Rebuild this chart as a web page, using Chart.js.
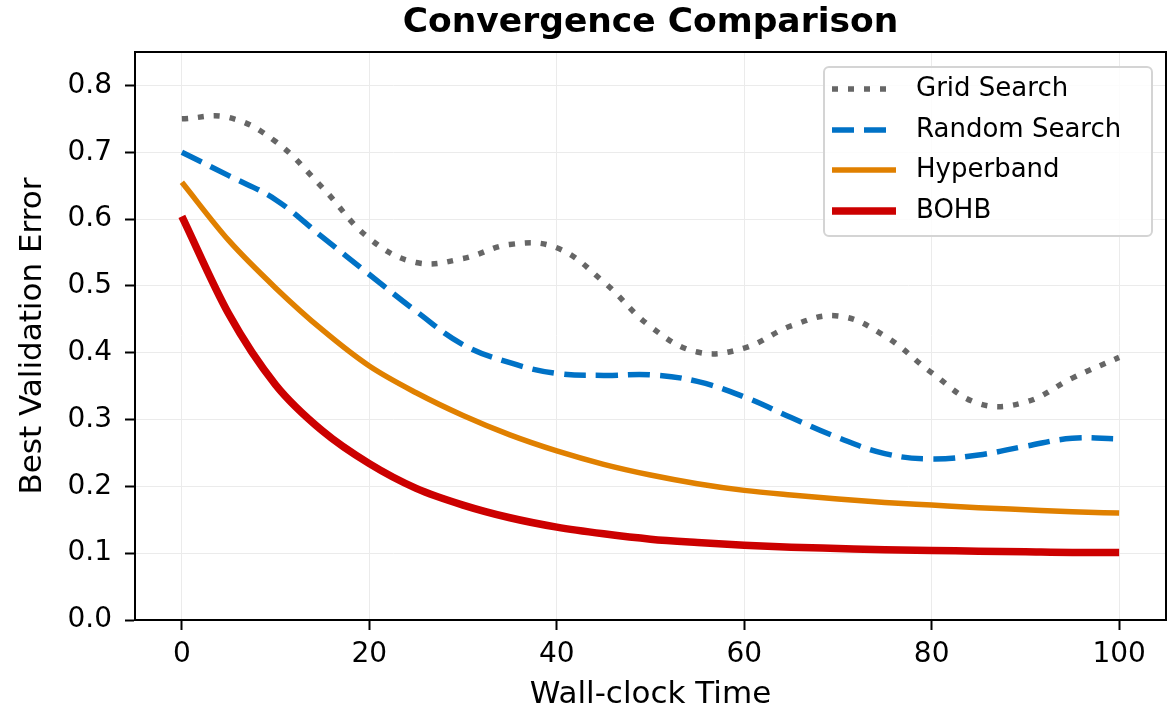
<!DOCTYPE html>
<html>
<head>
<meta charset="utf-8">
<title>Convergence Comparison</title>
<script src="https://cdn.jsdelivr.net/npm/chart.js@4.4.1/dist/chart.umd.min.js"></script>
<style>
  html, body { margin: 0; padding: 0; background: #fff; }
  #wrap { width: 1176px; height: 710px; position: relative; }
</style>
</head>
<body>
<div id="wrap"><canvas id="convChart" width="1176" height="710"></canvas></div>
<script>
(function () {
  'use strict';

  // wall-clock time samples
  const timeSteps = [0, 5, 10, 15, 20, 25, 30, 35, 40, 45, 50, 55, 60, 65, 70, 75, 80, 85, 90, 95, 100];

  // best validation error
  const gridSearch = [0.750, 0.752, 0.716, 0.647, 0.571, 0.535, 0.541, 0.562, 0.557, 0.506, 0.439, 0.401, 0.407, 0.440, 0.455, 0.425, 0.370, 0.324, 0.326, 0.362, 0.393];
  const randomSearch = [0.700, 0.665, 0.629, 0.573, 0.517, 0.462, 0.412, 0.385, 0.369, 0.366, 0.367, 0.357, 0.334, 0.303, 0.273, 0.249, 0.241, 0.247, 0.260, 0.272, 0.271];
  const hyperband = [0.655, 0.568, 0.497, 0.434, 0.380, 0.340, 0.306, 0.277, 0.253, 0.233, 0.217, 0.204, 0.194, 0.187, 0.181, 0.176, 0.172, 0.168, 0.165, 0.162, 0.160];
  const bohb = [0.604, 0.458, 0.352, 0.283, 0.234, 0.197, 0.172, 0.153, 0.139, 0.129, 0.121, 0.116, 0.112, 0.109, 0.107, 0.105, 0.104, 0.103, 0.102, 0.101, 0.101];

  const xTicks = [0, 20, 40, 60, 80, 100];
  const yTicks = [0.0, 0.1, 0.2, 0.3, 0.4, 0.5, 0.6, 0.7, 0.8];

  const FONT = "'DejaVu Sans', sans-serif";

  function pts(ys) {
    return ys.map((y, i) => ({ x: timeSteps[i], y: y }));
  }

  // title centred over the axes, box round the plot, legend inside upper right
  const decorations = {
    id: 'decorations',
    afterDatasetsDraw(chart) {
      const ctx = chart.ctx;
      const a = chart.chartArea;
      ctx.save();

      // top and right spines
      ctx.strokeStyle = '#000';
      ctx.lineWidth = 2;
      ctx.beginPath();
      ctx.moveTo(a.left, a.top);
      ctx.lineTo(a.right, a.top);
      ctx.lineTo(a.right, a.bottom);
      ctx.stroke();

      // legend
      const lx = 824, ly = 67, lw = 328, lh = 169, r = 5;
      ctx.fillStyle = 'rgba(255,255,255,0.85)';
      ctx.strokeStyle = '#d4d4d4';
      ctx.lineWidth = 2;
      ctx.beginPath();
      ctx.roundRect(lx, ly, lw, lh, r);
      ctx.fill();
      ctx.stroke();

      const rowY = [89, 130, 170, 211];
      chart.data.datasets.forEach((ds, i) => {
        const y = rowY[i];
        ctx.strokeStyle = ds.borderColor;
        ctx.lineWidth = ds.borderWidth;
        ctx.lineCap = 'butt';
        ctx.setLineDash(ds.borderDash || []);
        ctx.beginPath();
        ctx.moveTo(832, y);
        ctx.lineTo(896, y);
        ctx.stroke();
        ctx.setLineDash([]);
        ctx.fillStyle = '#000';
        ctx.font = '26px ' + FONT;
        ctx.textAlign = 'left';
        ctx.textBaseline = 'middle';
        ctx.fillText(ds.label, 916, y);
      });

      // title
      ctx.fillStyle = '#000';
      ctx.font = 'bold 34.5px ' + FONT;
      ctx.textAlign = 'center';
      ctx.textBaseline = 'middle';
      ctx.fillText('Convergence Comparison', (a.left + a.right) / 2, 23);

      ctx.restore();
    }
  };

  const ctx = document.getElementById('convChart').getContext('2d');
  window.convChart = new Chart(ctx, {
    type: 'line',
    data: {
      datasets: [
        {
          label: 'Grid Search',
          data: pts(gridSearch),
          borderColor: '#666666',
          borderWidth: 5.5,
          borderDash: [6, 10],
          borderCapStyle: 'butt',
          tension: 0.4,
          pointRadius: 0,
          fill: false
        },
        {
          label: 'Random Search',
          data: pts(randomSearch),
          borderColor: '#0072c6',
          borderWidth: 5.5,
          borderDash: [22, 10],
          borderCapStyle: 'butt',
          tension: 0.4,
          pointRadius: 0,
          fill: false
        },
        {
          label: 'Hyperband',
          data: pts(hyperband),
          borderColor: '#e08000',
          borderWidth: 5.5,
          cubicInterpolationMode: 'monotone',
          pointRadius: 0,
          fill: false
        },
        {
          label: 'BOHB',
          data: pts(bohb),
          borderColor: '#cc0000',
          borderWidth: 7.5,
          cubicInterpolationMode: 'monotone',
          pointRadius: 0,
          fill: false
        }
      ]
    },
    options: {
      responsive: false,
      animation: false,
      layout: { padding: { top: 52, right: 10, left: 0, bottom: 0 } },
      plugins: {
        legend: { display: false },
        title: { display: false },
        tooltip: { enabled: false }
      },
      scales: {
        x: {
          type: 'linear',
          min: -5,
          max: 105,
          afterBuildTicks: s => { s.ticks = xTicks.map(v => ({ value: v })); },
          afterFit: s => { s.height = 90; },
          grid: { color: '#ebebeb', lineWidth: 1, tickColor: '#000', tickLength: 10, tickWidth: 2 },
          border: { color: '#000', width: 2 },
          ticks: { color: '#000', font: { family: FONT, size: 28 }, padding: 8, maxRotation: 0 },
          title: { display: true, text: 'Wall-clock Time', color: '#000', font: { family: FONT, size: 31 }, padding: { top: 0, bottom: -4 } }
        },
        y: {
          min: 0,
          max: 0.85,
          afterBuildTicks: s => { s.ticks = yTicks.map(v => ({ value: v })); },
          afterFit: s => { s.width = 135; },
          grid: { color: '#ebebeb', lineWidth: 1, tickColor: '#000', tickLength: 10, tickWidth: 2 },
          border: { color: '#000', width: 2 },
          ticks: { color: '#000', font: { family: FONT, size: 28 }, padding: 13, callback: v => Number(v).toFixed(1) },
          title: { display: true, text: 'Best Validation Error', color: '#000', font: { family: FONT, size: 31 }, padding: { top: 14, bottom: 0 } }
        }
      }
    },
    plugins: [decorations]
  });
})();
</script>
</body>
</html>
